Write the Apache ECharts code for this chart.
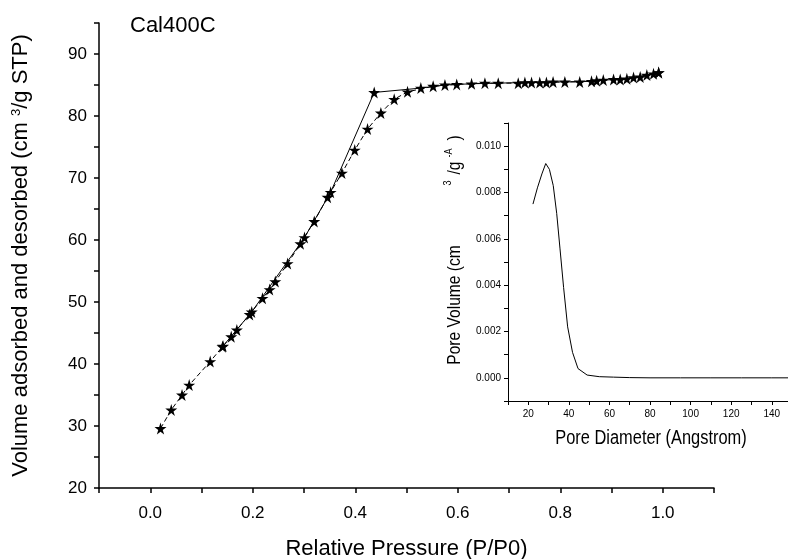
<!DOCTYPE html>
<html lang="en">
<head>
<meta charset="utf-8" />
<title>Cal400C</title>
<script src="https://cdn.jsdelivr.net/npm/echarts@6/dist/echarts.min.js"></script>
<style>
	html,body{margin:0;padding:0;background:#fff;}
	#main{width:788px;height:559px;}
</style>
</head>
<body>
<div id="main"></div>
<script>
// adsorption branch (dashed line)
var adsP = [0.020, 0.041, 0.062, 0.076, 0.117, 0.141, 0.158, 0.169, 0.194, 0.219, 0.233, 0.244, 0.268, 0.293, 0.320, 0.346, 0.374, 0.399, 0.424, 0.450, 0.476, 0.502, 0.552, 0.598, 0.653, 0.718, 0.760, 0.809, 0.861, 0.904, 0.943, 0.982, 0.992];
var adsV = [29.6, 32.6, 35.0, 36.6, 40.4, 42.8, 44.4, 45.5, 48.0, 50.6, 52.0, 53.3, 56.2, 59.4, 63.0, 66.9, 70.8, 74.5, 77.9, 80.5, 82.7, 83.9, 84.8, 85.1, 85.3, 85.3, 85.4, 85.5, 85.6, 85.9, 86.2, 86.8, 87.0];
// desorption branch (solid line)
var desP = [0.992, 0.969, 0.956, 0.930, 0.917, 0.884, 0.871, 0.838, 0.786, 0.773, 0.744, 0.731, 0.679, 0.627, 0.575, 0.528, 0.437, 0.352, 0.301, 0.198, 0.142];
var desV = [87.0, 86.6, 86.3, 86.0, 85.9, 85.8, 85.7, 85.5, 85.5, 85.4, 85.4, 85.4, 85.3, 85.2, 85.0, 84.5, 83.8, 67.7, 60.4, 48.4, 42.9];
// inset: pore size distribution
var poreD = [22.3, 24.5, 26.7, 28.6, 30.4, 32.3, 34.0, 35.6, 37.4, 39.4, 41.8, 44.5, 49, 55, 62, 70, 80, 95, 110, 125, 140, 148];
var poreV = [0.0075, 0.0082, 0.0088, 0.00925, 0.0090, 0.0083, 0.0071, 0.0056, 0.0039, 0.0022, 0.0011, 0.0004, 0.00012, 0.00005, 0.00003, 0.00001, 0, 0, 0, 0, 0, 0];

var sans = "'Liberation Sans', Arial, sans-serif";
var star = 'path://M50,0 L61,35 L98,35 L68,57 L79,91 L50,70 L21,91 L32,57 L2,35 L39,35 Z';

function pairs(xs, ys){
	var out = [];
	for (var i = 0; i < xs.length; i++) out.push([xs[i], ys[i]]);
	return out;
}

// squeezed text for the inset titles (the original uses a condensed face)
function squeezed(txt, x, y, size, rot){
	return {
		type: 'text', x: x, y: y, rotation: rot, scaleX: 0.82,
		style: {text: txt, fontSize: size, fontFamily: sans, fill: '#000', align: 'center', verticalAlign: 'middle'}
	};
}

var myChart = echarts.init(document.getElementById('main'));
var V = Math.PI / 2;
var option = {
	animation: false,
	backgroundColor: '#fff',
	grid: [
		{left: 99, top: 23, right: 74, bottom: 71, outerBoundsMode: 'none'},
		{left: 508, top: 123, right: 0, bottom: 158, outerBoundsMode: 'none'}
	],
	xAxis: [
		{
			type: 'value', gridIndex: 0, min: -0.1, max: 1.1, interval: 0.1,
			name: 'Relative Pressure (P/P0)', nameLocation: 'middle', nameGap: 50,
			nameTextStyle: {fontSize: 22, fontFamily: sans, color: '#000'},
			axisLine: {onZero: false, lineStyle: {color: '#000', width: 1.5}},
			axisTick: {length: 5, lineStyle: {color: '#000', width: 1.5}},
			axisLabel: {
				margin: 17, fontSize: 17, fontFamily: sans, color: '#000',
				formatter: function(v){
					var k = Math.round(v * 10);
					return (k >= 0 && k <= 10 && k % 2 === 0) ? (k / 10).toFixed(1) : '';
				}
			},
			splitLine: {show: false}
		},
		{
			type: 'value', gridIndex: 1, min: 10, max: 148, interval: 10,
			axisLine: {onZero: false, lineStyle: {color: '#000', width: 1}},
			axisTick: {length: 4, lineStyle: {color: '#000', width: 1}},
			axisLabel: {
				margin: 8, fontSize: 10, fontFamily: sans, color: '#000',
				formatter: function(v){
					var k = Math.round(v);
					return (k >= 20 && k % 20 === 0) ? String(k) : '';
				}
			},
			splitLine: {show: false}
		}
	],
	yAxis: [
		{
			type: 'value', gridIndex: 0, min: 20, max: 95, interval: 5,
			name: 'Volume adsorbed and desorbed (cm {sup|3}/g STP)', nameLocation: 'middle', nameGap: 67, nameRotate: 90,
			nameTextStyle: {
				fontSize: 22, fontFamily: sans, color: '#000',
				rich: {sup: {fontSize: 13, fontFamily: sans, color: '#000', verticalAlign: 'top'}}
			},
			axisLine: {onZero: false, lineStyle: {color: '#000', width: 1.5}},
			axisTick: {length: 5, lineStyle: {color: '#000', width: 1.5}},
			axisLabel: {
				margin: 12, fontSize: 17, fontFamily: sans, color: '#000',
				formatter: function(v){
					var k = Math.round(v);
					return k % 10 === 0 ? String(k) : '';
				}
			},
			splitLine: {show: false}
		},
		{
			type: 'value', gridIndex: 1, min: -0.001, max: 0.011, interval: 0.001,
			axisLine: {onZero: false, lineStyle: {color: '#000', width: 1}},
			axisTick: {length: 4, lineStyle: {color: '#000', width: 1}},
			axisLabel: {
				margin: 7, fontSize: 10, fontFamily: sans, color: '#000',
				formatter: function(v){
					var k = Math.round(v * 1000);
					return (k >= 0 && k <= 10 && k % 2 === 0) ? (k / 1000).toFixed(3) : '';
				}
			},
			splitLine: {show: false}
		}
	],
	graphic: [
		{type: 'text', left: 130, top: 15, style: {text: 'Cal400C', fontSize: 22, fontFamily: sans, fill: '#000'}},
		squeezed('Pore Diameter (Angstrom)', 651, 438, 20, 0),
		squeezed('Pore Volume (cm', 455, 305, 19, V),
		squeezed('3', 448, 183, 11, V),
		squeezed('/g', 455, 168, 19, V),
		squeezed('-A', 449, 153, 11, V),
		squeezed(')', 455, 138, 19, V)
	],
	series: [
		{
			name: 'adsorption', type: 'line', xAxisIndex: 0, yAxisIndex: 0,
			data: pairs(adsP, adsV),
			symbol: star, symbolSize: 12, showAllSymbol: true,
			lineStyle: {color: '#000', width: 1, type: [5, 3]},
			itemStyle: {color: '#000'}
		},
		{
			name: 'desorption', type: 'line', xAxisIndex: 0, yAxisIndex: 0,
			data: pairs(desP, desV),
			symbol: star, symbolSize: 12, showAllSymbol: true,
			lineStyle: {color: '#000', width: 1},
			itemStyle: {color: '#000'}
		},
		{
			name: 'pore', type: 'line', xAxisIndex: 1, yAxisIndex: 1,
			data: pairs(poreD, poreV),
			symbol: 'none',
			lineStyle: {color: '#000', width: 1}
		}
	]
};
myChart.setOption(option);
</script>
</body>
</html>
